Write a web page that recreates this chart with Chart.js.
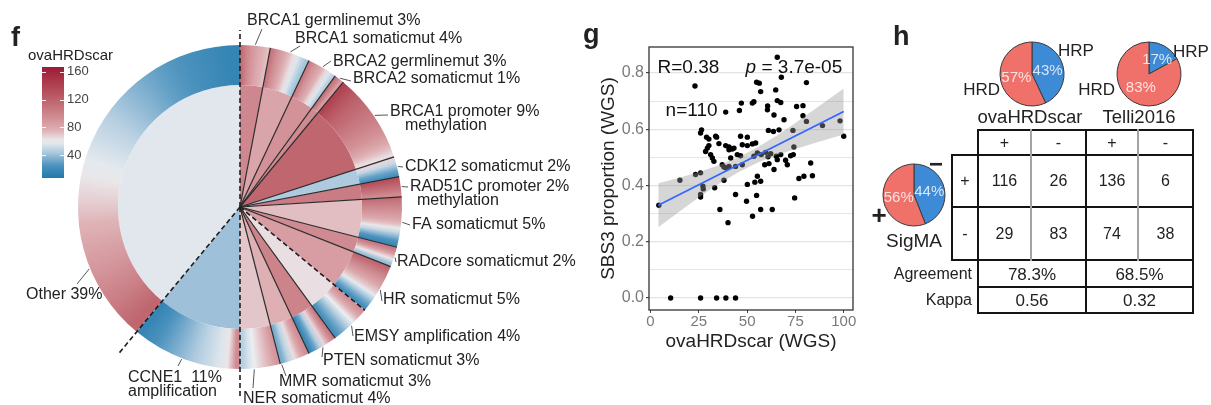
<!DOCTYPE html>
<html>
<head>
<meta charset="utf-8">
<title>HRD figure panels f-h</title>
<script src="https://cdn.jsdelivr.net/npm/chart.js@4.4.1/dist/chart.umd.min.js"></script>
<style>
  body { margin: 0; background: #fff; }
  #fig { position: relative; width: 1211px; height: 405px; overflow: hidden;
         font-family: "Liberation Sans", Arial, sans-serif; color: #222; }
  #fig canvas { position: absolute; }
  .t { position: absolute; line-height: 1; white-space: nowrap; }
  .ln { position: absolute; }
</style>
</head>
<body>
<div id="fig">
  <canvas id="donut" width="580" height="405" style="left:0;top:0"></canvas>
  <canvas id="scatter" width="300" height="405" style="left:580px;top:0"></canvas>
  <canvas id="pie1" width="140" height="70" style="left:960px;top:40px"></canvas>
  <canvas id="pie2" width="136" height="70" style="left:1075px;top:40px"></canvas>
  <canvas id="pie3" width="70" height="70" style="left:880px;top:160px"></canvas>
</div>
<script>
// ---------- panel f: alteration groups ----------
const groups = ['BRCA1 germlinemut', 'BRCA1 somaticmut', 'BRCA2 germlinemut', 'BRCA2 somaticmut',
  'BRCA1 promoter methylation', 'CDK12 somaticmut', 'RAD51C promoter methylation', 'FA somaticmut',
  'RADcore somaticmut', 'HR somaticmut', 'EMSY amplification', 'PTEN somaticmut', 'MMR somaticmut',
  'NER somaticmut', 'CCNE1 amplification', 'Other'];
const groupPct = [3, 4, 3, 1, 9, 2, 2, 5, 2, 5, 4, 3, 3, 4, 11, 39];
const groupText = [
  ['BRCA1 germlinemut 3%'], ['BRCA1 somaticmut 4%'], ['BRCA2 germlinemut 3%'], ['BRCA2 somaticmut 1%'],
  ['BRCA1 promoter 9%', 'methylation'], ['CDK12 somaticmut 2%'], ['RAD51C promoter 2%', 'methylation'],
  ['FA somaticmut 5%'], ['RADcore somaticmut 2%'], ['HR somaticmut 5%'], ['EMSY amplification 4%'],
  ['PTEN somaticmut 3%'], ['MMR somaticmut 3%'], ['NER somaticmut 4%'], ['CCNE1  11%', 'amplification'],
  ['Other 39%']];
// mean ovaHRDscar of each group (inner pie)
const groupMeanScore = [98, 82, 92, 96, 118, 44, 104, 72, 96, 86, 64, 100, 76, 70, 41, 57];
// ovaHRDscar of the samples in each group, in ring order (outer ring)
const sampleScores = [
  [112, 100, 92, 86, 80, 76, 72],
  [108, 96, 88, 80, 72, 64, 56, 48, 42],
  [104, 92, 84, 76, 66, 56, 46],
  [110, 96, 84],
  [140, 132, 126, 120, 116, 112, 108, 104, 100, 96, 92, 86, 80, 72, 64],
  [66, 50, 40, 30, 24],
  [130, 118, 108, 96],
  [112, 104, 98, 92, 86, 80, 72, 62, 50, 38, 26, 18],
  [104, 84, 62, 40],
  [116, 106, 96, 88, 80, 70, 58, 44, 32, 22],
  [92, 76, 60, 46, 34, 24],
  [104, 86, 66, 46, 30, 18],
  [94, 80, 64, 48, 34],
  [90, 80, 72, 66, 60, 54, 46],
  [96, 62, 56, 52, 48, 44, 40, 36, 32, 28, 24, 20, 16],
  [118, 110, 102, 96, 90, 85, 80, 75, 70, 66, 62, 58, 54, 50, 46, 42, 38, 34, 30, 27, 24, 21, 18, 15]
];
const scoreTicks = [40, 80, 120, 160];

// ---------- panel g: SBS3 vs ovaHRDscar ----------
const ovaX = [65.6, 23.0, 54.9, 56.3, 67.7, 80.7, 57.0, 64.8, 65.6, 67.4, 47.0, 46.0, 53.5, 52.7, 60.6,
  75.6, 78.9, 38.9, 63.9, 69.1, 78.9, 80.7, 89.0, 98.1, 100.0, 26.4, 25.9, 29.0, 34.2, 30.2, 29.4, 35.4,
  38.9, 40.6, 42.3, 46.6, 50.1, 52.7, 54.4, 61.0, 63.6, 66.5, 73.7, 31.1, 32.0, 32.8, 37.1, 41.5, 44.9,
  46.6, 55.3, 57.3, 59.6, 65.1, 65.6, 69.9, 70.8, 73.9, 59.1, 61.3, 82.9, 47.5, 23.3, 25.9, 55.3, 79.4,
  83.8, 38.0, 44.0, 63.9, 15.2, 27.1, 27.3, 25.9, 25.9, 33.2, 38.0, 35.9, 40.1, 44.0, 50.1, 49.7, 54.0,
  57.0, 54.9, 52.8, 57.0, 63.0, 74.6, 76.8, 4.3, 10.4, 25.9, 34.2, 39.0, 44.0, 30.2, 28.5, 33.7, 43.2,
  40.6, 47.5, 74.2, 53.5, 60.8, 62.2, 67.4, 72.5, 38.9, 40.6, 60.5, 50.1];
const sbs3Y = [0.856, 0.754, 0.767, 0.764, 0.785, 0.766, 0.734, 0.740, 0.702, 0.695, 0.693, 0.667, 0.698,
  0.693, 0.683, 0.681, 0.684, 0.661, 0.651, 0.634, 0.648, 0.628, 0.613, 0.630, 0.575, 0.598, 0.587, 0.572,
  0.572, 0.542, 0.533, 0.549, 0.542, 0.537, 0.530, 0.575, 0.542, 0.548, 0.551, 0.596, 0.592, 0.598, 0.596,
  0.510, 0.498, 0.486, 0.474, 0.498, 0.510, 0.506, 0.516, 0.510, 0.518, 0.504, 0.492, 0.490, 0.474, 0.510,
  0.474, 0.478, 0.480, 0.474, 0.439, 0.445, 0.433, 0.433, 0.435, 0.466, 0.468, 0.457, 0.419, 0.398, 0.388,
  0.368, 0.359, 0.392, 0.419, 0.315, 0.268, 0.368, 0.404, 0.344, 0.412, 0.415, 0.365, 0.291, 0.315, 0.315,
  0.356, 0.425, 0.330, 0, 0, 0, 0, 0, 0.565, 0.521, 0.575, 0.533, 0.527, 0.545, 0.537, 0.504, 0.502, 0.513,
  0.510, 0.506, 0.463, 0.468, 0.669, 0.572];
const fitX = [4, 100];
const fitY = [0.330, 0.663];
const bandX = [4, 15, 25, 35, 45, 55, 65, 75, 85, 100];
const bandLo = [0.252, 0.308, 0.358, 0.405, 0.445, 0.480, 0.508, 0.530, 0.551, 0.581];
const bandHi = [0.408, 0.428, 0.448, 0.471, 0.499, 0.534, 0.576, 0.622, 0.671, 0.745];
const statText = ['R=0.38', '3.7e-05', 'n=110'];

// ---------- panel h: HRD calls ----------
const pieNames = ['ovaHRDscar', 'Telli2016', 'SigMA'];
const hrpPct = [43, 17, 44];
const hrdPct = [57, 83, 56];
const colSigns = ['+', '-', '+', '-'];
const rowSigns = ['+', '-'];
const sigmaPos = [116, 26, 136, 6];
const sigmaNeg = [29, 83, 74, 38];
const agreement = ['78.3%', '68.5%'];
const kappa = ['0.56', '0.32'];

// ---------- styling ----------
const FONT = '"Liberation Sans", Arial, sans-serif';
Chart.defaults.font.family = FONT;
const cmapStops = [[5, '#1c76a9'], [25, '#4b92be'], [45, '#b3cde0'], [60, '#eceef0'],
  [75, '#dfb2b6'], [100, '#cc838a'], [130, '#b6525d'], [170, '#9b1631']];

function hexRgb(h) {
  return [1, 3, 5].map(i => parseInt(h.slice(i, i + 2), 16));
}
function scoreColor(v) {
  const s = cmapStops;
  if (v <= s[0][0]) return s[0][1];
  for (let i = 1; i < s.length; i++) {
    if (v <= s[i][0]) {
      const t = (v - s[i - 1][0]) / (s[i][0] - s[i - 1][0]);
      const a = hexRgb(s[i - 1][1]), b = hexRgb(s[i][1]);
      return 'rgb(' + a.map((c, k) => Math.round(c + (b[k] - c) * t)).join(',') + ')';
    }
  }
  return s[s.length - 1][1];
}

// ring colour: one conic gradient, the samples of each group spread over its slice
function ringGradient(chart) {
  const a = chart.chartArea;
  const g = chart.ctx.createConicGradient(-Math.PI / 2, (a.left + a.right) / 2, (a.top + a.bottom) / 2);
  const total = groupPct.reduce((s, v) => s + v, 0);
  let acc = 0;
  groupPct.forEach((p, gi) => {
    const from = acc / total, to = (acc + p) / total;
    const sc = sampleScores[gi];
    g.addColorStop(from, scoreColor(sc[0]));
    sc.forEach((v, i) => g.addColorStop(from + (i + 0.5) / sc.length * (to - from), scoreColor(v)));
    g.addColorStop(to, scoreColor(sc[sc.length - 1]));
    acc += p;
  });
  return g;
}

// label placement relative to the pie centre: text [x, y], leader end [x, y],
// where on the slice the leader starts (0..1, default middle), 2nd line shift
const labelPos = [
  {text: [7, -186], lead: [22, -178]},
  {text: [55, -168], lead: [60, -161]},
  {text: [93, -145], lead: [91, -146]},
  {text: [113, -128], lead: [111, -126]},
  {text: [150, -95], lead: [148, -92], line2: [15, 14]},
  {text: [165, -40], lead: [163, -40]},
  {text: [170, -20], lead: [168, -20], line2: [7, 14]},
  {text: [172, 18], lead: [170, 18]},
  {text: [157, 55], lead: [156, 55]},
  {text: [143, 93], lead: [142, 94]},
  {text: [114, 130], lead: [113, 129]},
  {text: [83, 154], lead: [82, 150]},
  {text: [39, 175], lead: [46, 169], at: 0.96},
  {text: [3, 192], lead: [13, 181], at: 0.65},
  {text: [-112, 171], lead: [-62, 159], at: 0.53, line2: [0, 14]},
  {text: [-214, 88], lead: [-163, 77], at: 0.2}
];
// dashed boundaries (start of group) and how far they run
const dashLen = {0: 177, 10: 162, 14: 190, 15: 191};

const donutDecor = {
  id: 'donutDecor',
  afterDatasetsDraw(chart) {
    const ctx = chart.ctx;
    const arcs = chart.getDatasetMeta(0).data;
    const cx = arcs[0].x, cy = arcs[0].y, R = arcs[0].outerRadius;
    ctx.save();
    // wedge borders
    arcs.forEach((arc, i) => {
      const a = arc.startAngle;
      const len = dashLen[i] || R;
      ctx.beginPath();
      if (dashLen[i]) { ctx.setLineDash([5, 3]); ctx.lineWidth = 1.6; ctx.strokeStyle = '#1e1e1e'; }
      else { ctx.setLineDash([]); ctx.lineWidth = 1.2; ctx.strokeStyle = '#2c2c2c'; }
      ctx.moveTo(cx, cy);
      ctx.lineTo(cx + len * Math.cos(a), cy + len * Math.sin(a));
      ctx.stroke();
    });
    ctx.setLineDash([]);
    // labels with leader lines
    ctx.font = '16px ' + FONT;
    ctx.textBaseline = 'middle';
    ctx.textAlign = 'left';
    arcs.forEach((arc, i) => {
      const L = labelPos[i];
      const f = L.at === undefined ? 0.5 : L.at;
      const ang = arc.startAngle + f * (arc.endAngle - arc.startAngle);
      ctx.strokeStyle = '#555';
      ctx.lineWidth = 1;
      ctx.beginPath();
      ctx.moveTo(cx + (R + 1) * Math.cos(ang), cy + (R + 1) * Math.sin(ang));
      ctx.lineTo(cx + L.lead[0], cy + L.lead[1]);
      ctx.stroke();
      ctx.fillStyle = '#222';
      groupText[i].forEach((t, k) => {
        const sh = k ? L.line2 : [0, 0];
        ctx.fillText(t, cx + L.text[0] + sh[0], cy + L.text[1] + sh[1]);
      });
    });
    ctx.restore();
  },
  afterDraw(chart) {
    // colour bar legend
    const ctx = chart.ctx;
    const bar = {x: 42, y: 67, w: 22, h: 111, vmin: 7, vmax: 167};
    const yOf = v => bar.y + bar.h - (v - bar.vmin) / (bar.vmax - bar.vmin) * bar.h;
    const lg = ctx.createLinearGradient(0, bar.y + bar.h, 0, bar.y);
    for (let k = 0; k <= 32; k++) {
      lg.addColorStop(k / 32, scoreColor(bar.vmin + k / 32 * (bar.vmax - bar.vmin)));
    }
    ctx.save();
    ctx.fillStyle = lg;
    ctx.fillRect(bar.x, bar.y, bar.w, bar.h);
    ctx.strokeStyle = 'rgba(255,255,255,0.9)';
    ctx.lineWidth = 1;
    ctx.font = '13px ' + FONT;
    ctx.fillStyle = '#444';
    ctx.textBaseline = 'middle';
    scoreTicks.forEach(v => {
      const y = Math.round(yOf(v)) + 0.5;
      ctx.beginPath();
      ctx.moveTo(bar.x, y); ctx.lineTo(bar.x + 4, y);
      ctx.moveTo(bar.x + bar.w - 4, y); ctx.lineTo(bar.x + bar.w, y);
      ctx.stroke();
      ctx.fillText(String(v), bar.x + bar.w + 3, yOf(v));
    });
    ctx.fillStyle = '#222';
    ctx.font = '15px ' + FONT;
    ctx.fillText('ovaHRDscar', 28, 56);
    ctx.restore();
  }
};

new Chart(document.getElementById('donut'), {
  type: 'doughnut',
  data: {
    labels: groups,
    datasets: [
      {data: groupPct, weight: 40, borderWidth: 0,
       backgroundColor: c => (c.chart.chartArea ? ringGradient(c.chart) : '#ddd')},
      {data: groupPct, weight: 122, borderWidth: 0,
       backgroundColor: groupMeanScore.map(scoreColor)}
    ]
  },
  options: {
    responsive: false,
    animation: false,
    cutout: 0,
    radius: 162,
    layout: {padding: {left: 70, right: 170, top: 37, bottom: 28}},
    plugins: {legend: {display: false}, tooltip: {enabled: false}}
  },
  plugins: [donutDecor]
});

// ---------- scatter ----------
const isMajor = v => Math.round(v * 10) % 2 === 0;
const scatterDecor = {
  id: 'scatterDecor',
  afterDraw(chart) {
    const {ctx, chartArea: a, scales: {x, y}} = chart;
    ctx.save();
    ctx.strokeStyle = '#333';
    ctx.lineWidth = 1.3;
    ctx.strokeRect(a.left, a.top, a.right - a.left, a.bottom - a.top);
    ctx.fillStyle = '#111';
    ctx.textBaseline = 'middle';
    ctx.textAlign = 'left';
    ctx.font = '19px ' + FONT;
    ctx.fillText(statText[0], x.getPixelForValue(3.6), y.getPixelForValue(0.818));
    ctx.fillText(statText[2], x.getPixelForValue(7.8), y.getPixelForValue(0.665));
    const px = x.getPixelForValue(49.2), py = y.getPixelForValue(0.818);
    ctx.font = 'italic 19px ' + FONT;
    ctx.fillText('p', px, py);
    const w = ctx.measureText('p').width;
    ctx.font = '19px ' + FONT;
    ctx.fillText(' = ' + statText[1], px + w, py);
    ctx.restore();
  }
};

new Chart(document.getElementById('scatter'), {
  type: 'scatter',
  data: {
    datasets: [
      {data: ovaX.map((v, i) => ({x: v, y: sbs3Y[i]})), backgroundColor: '#000', borderWidth: 0,
       pointRadius: 2.7, order: 3},
      {type: 'line', data: bandX.map((v, i) => ({x: v, y: bandLo[i]})), showLine: true, borderWidth: 0,
       pointRadius: 0, fill: false, order: 2},
      {type: 'line', data: bandX.map((v, i) => ({x: v, y: bandHi[i]})), showLine: true, borderWidth: 0,
       pointRadius: 0, fill: '-1', backgroundColor: 'rgba(153,153,153,0.4)', order: 2},
      {type: 'line', data: fitX.map((v, i) => ({x: v, y: fitY[i]})), showLine: true, borderColor: '#3366ff',
       borderWidth: 1.7, pointRadius: 0, fill: false, order: 1}
    ]
  },
  options: {
    responsive: false,
    animation: false,
    layout: {padding: {left: 0, right: 27, top: 47, bottom: 45}},
    plugins: {legend: {display: false}, tooltip: {enabled: false}},
    scales: {
      x: {
        type: 'linear', min: -0.8, max: 104.8,
        afterFit: s => { s.height = 50; },
        border: {display: false},
        grid: {drawOnChartArea: false, drawTicks: true, tickLength: 3, tickColor: '#444'},
        ticks: {stepSize: 25, includeBounds: false, color: '#7a7a7a', font: {size: 15}, padding: 0, maxRotation: 0},
        title: {display: true, text: 'ovaHRDscar (WGS)', color: '#222', font: {size: 19}, padding: {top: 0, bottom: 6.6}}
      },
      y: {
        type: 'linear', min: -0.0425, max: 0.8925,
        afterFit: s => { s.width = 69; },
        border: {display: false},
        grid: {
          color: '#e3e3e3',
          lineWidth: c => (c.tick && isMajor(c.tick.value) ? 1.2 : 0.9),
          drawTicks: true, tickLength: 3,
          tickColor: c => (c.tick && isMajor(c.tick.value) ? '#444' : 'rgba(0,0,0,0)')
        },
        ticks: {stepSize: 0.1, includeBounds: false, color: '#7a7a7a', font: {size: 16}, padding: 2,
                autoSkip: false, callback: v => (isMajor(v) ? v.toFixed(1) : '')},
        title: {display: true, text: 'SBS3 proportion (WGS)', color: '#222', font: {size: 19},
                padding: {top: 17.6, bottom: 0}}
      }
    }
  },
  plugins: [scatterDecor]
});

// ---------- pies ----------
const pctLabels = {
  id: 'pctLabels',
  afterDatasetsDraw(chart) {
    const ctx = chart.ctx;
    const ds = chart.data.datasets[0];
    ctx.save();
    ctx.font = '15px ' + FONT;
    ctx.fillStyle = 'rgba(255,255,255,0.8)';
    ctx.textAlign = 'center';
    ctx.textBaseline = 'middle';
    chart.getDatasetMeta(0).data.forEach((arc, i) => {
      const p = arc.tooltipPosition();
      ctx.fillText(ds.data[i] + '%', p.x, p.y);
    });
    ctx.restore();
  }
};
function makePie(id, i, pad, radius) {
  new Chart(document.getElementById(id), {
    type: 'pie',
    data: {
      labels: ['HRP', 'HRD'],
      datasets: [{data: [hrpPct[i], hrdPct[i]], backgroundColor: ['#3d8ad6', '#f0706a'],
                  borderColor: '#3a3a3a', borderWidth: 1}]
    },
    options: {
      responsive: false, animation: false, radius: radius,
      layout: {padding: pad},
      plugins: {legend: {display: false}, tooltip: {enabled: false}}
    },
    plugins: [pctLabels]
  });
}
makePie('pie1', 0, {left: 38, right: 34, top: 0, bottom: 2}, 32);
makePie('pie2', 1, {left: 40, right: 28, top: 0, bottom: 2}, 32);
makePie('pie3', 2, {left: 0, right: 2, top: 1, bottom: 1}, 31);

// ---------- text and table (HTML) ----------
const fig = document.getElementById('fig');
function addText(str, x, y, size, align, extra) {
  const d = document.createElement('div');
  d.className = 't';
  d.textContent = str;
  d.style.left = x + 'px';
  d.style.top = y + 'px';
  d.style.fontSize = size + 'px';
  const tx = align === 'center' ? '-50%' : align === 'right' ? '-100%' : '0';
  d.style.transform = 'translate(' + tx + ', -50%)';
  if (extra) Object.assign(d.style, extra);
  fig.appendChild(d);
}
function line(x1, y1, x2, y2, color) {
  const d = document.createElement('div');
  d.className = 'ln';
  d.style.background = color;
  d.style.left = x1 - 1 + 'px';
  d.style.top = y1 - 1 + 'px';
  if (y1 === y2) {
    d.style.width = x2 - x1 + 2 + 'px'; d.style.height = '2px';
  } else {
    d.style.width = '2px'; d.style.height = y2 - y1 + 2 + 'px';
  }
  fig.appendChild(d);
}
const bold = {fontWeight: 'bold'};
addText('f', 11, 37, 27, 'left', bold);
addText('g', 583, 34, 27, 'left', bold);
addText('h', 893, 36, 27, 'left', bold);

addText('HRP', 1058, 50, 17, 'left');
addText('HRD', 1000, 89, 17, 'right');
addText('HRP', 1173, 51, 17, 'left');
addText('HRD', 1115, 89, 17, 'right');
addText(pieNames[0], 1030, 117, 18.5, 'center');
addText(pieNames[1], 1139, 117, 18.5, 'center');
addText(pieNames[2], 914, 240, 19, 'center');
addText('\u2212', 936, 164, 24, 'center', bold);
addText('+', 879, 215, 26, 'center', bold);

const colX = [952, 978, 1031, 1086, 1138, 1193];
const rowY = [130, 155, 207, 260, 287, 313];
const BLACK = '#141414', GREY = '#a3a3a3';
line(colX[1], rowY[0], colX[5], rowY[0], BLACK);
[1, 2, 3].forEach(r => line(colX[0], rowY[r], colX[5], rowY[r], BLACK));
[4, 5].forEach(r => line(colX[1], rowY[r], colX[5], rowY[r], BLACK));
line(colX[0], rowY[1], colX[0], rowY[3], BLACK);
[1, 3, 5].forEach(c => line(colX[c], rowY[0], colX[c], rowY[5], BLACK));
[2, 4].forEach(c => line(colX[c], rowY[0], colX[c], rowY[3], GREY));

const mid = (a, b) => (a + b) / 2;
colSigns.forEach((s, c) => addText(s, mid(colX[c + 1], colX[c + 2]), mid(rowY[0], rowY[1]), 16, 'center'));
rowSigns.forEach((s, r) => addText(s, mid(colX[0], colX[1]), mid(rowY[r + 1], rowY[r + 2]), 16, 'center'));
[sigmaPos, sigmaNeg].forEach((row, r) => row.forEach((v, c) =>
  addText(String(v), mid(colX[c + 1], colX[c + 2]), mid(rowY[r + 1], rowY[r + 2]), 16, 'center')));
addText('Agreement', 972, mid(rowY[3], rowY[4]), 16, 'right');
addText('Kappa', 972, mid(rowY[4], rowY[5]), 16, 'right');
agreement.forEach((v, k) => addText(v, mid(colX[1 + 2 * k], colX[3 + 2 * k]), mid(rowY[3], rowY[4]), 17, 'center'));
kappa.forEach((v, k) => addText(v, mid(colX[1 + 2 * k], colX[3 + 2 * k]), mid(rowY[4], rowY[5]), 17, 'center'));
</script>
</body>
</html>
